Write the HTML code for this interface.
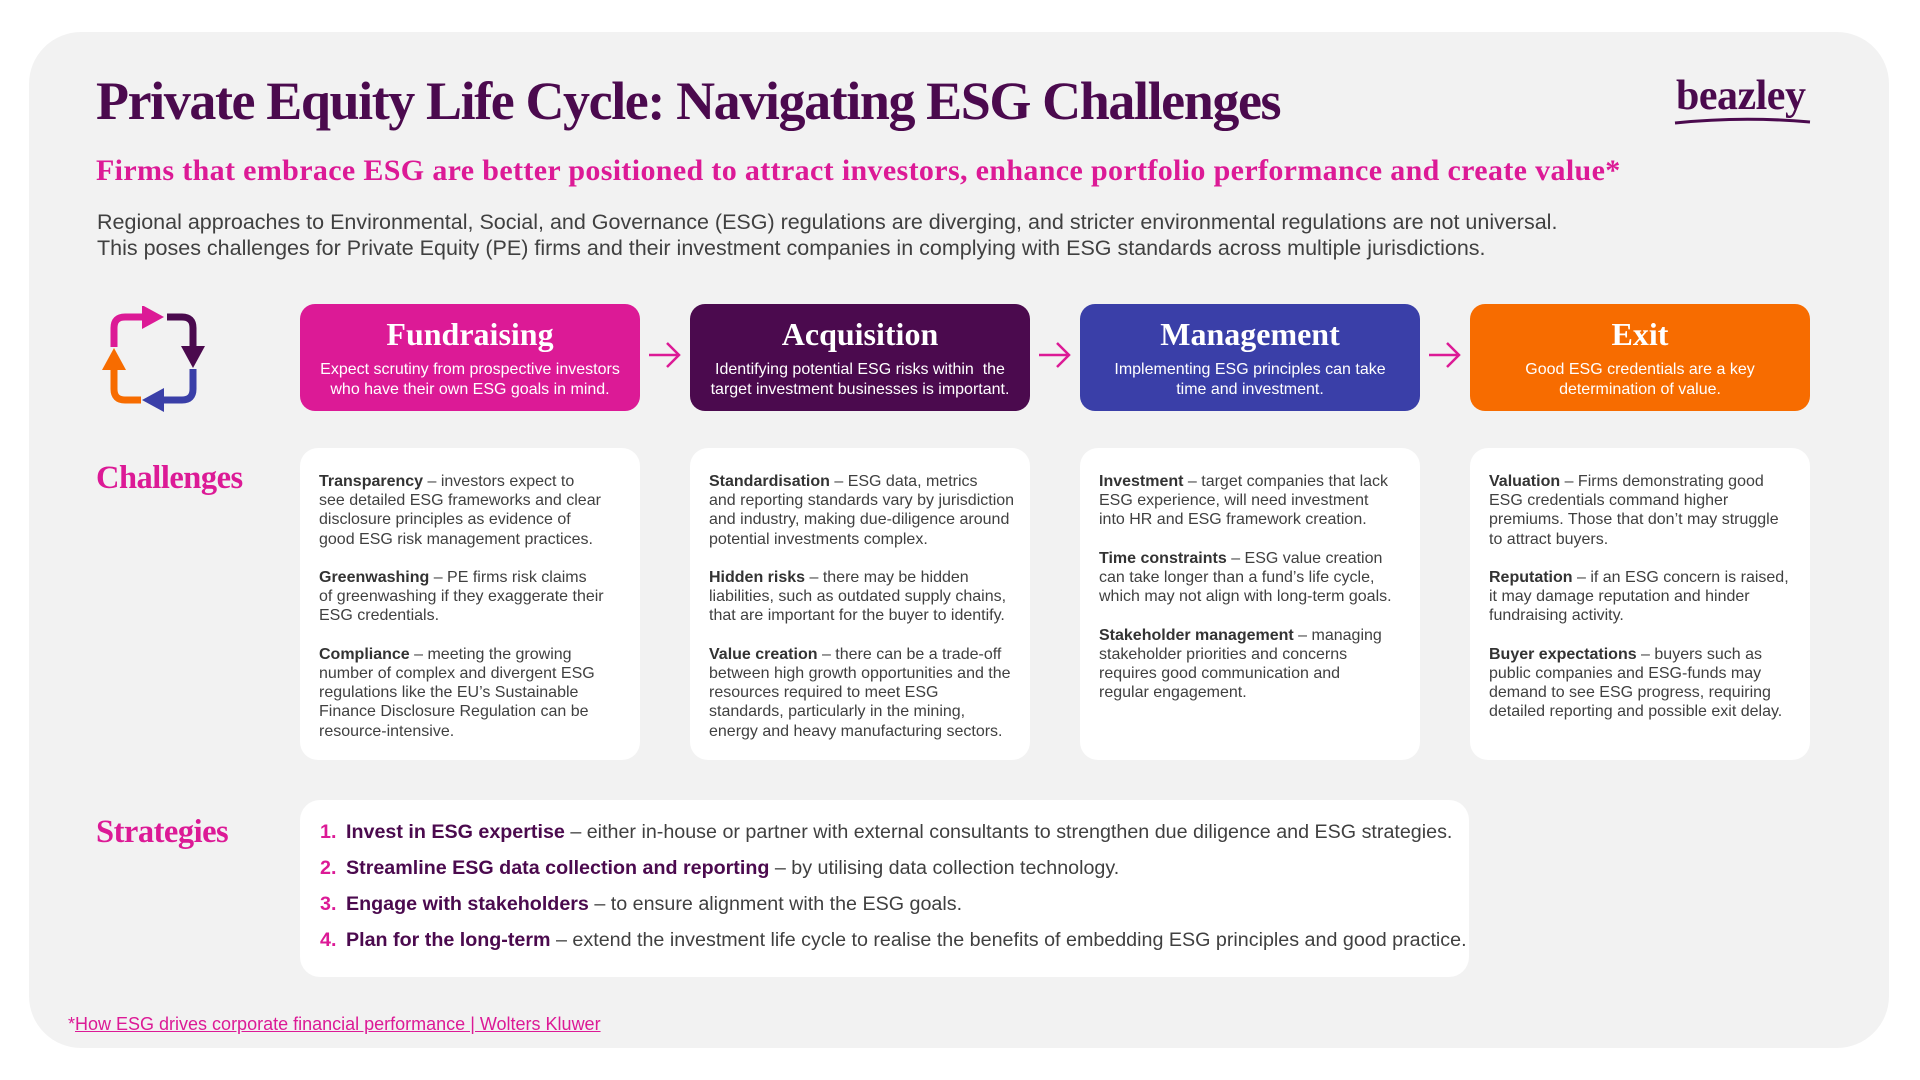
<!DOCTYPE html>
<html><head><meta charset="utf-8"><style>
*{margin:0;padding:0;box-sizing:border-box}
body{width:1920px;height:1080px;background:#fff;position:relative;overflow:hidden;font-family:"Liberation Sans",Arial,sans-serif}
.card{position:absolute;left:29px;top:32px;width:1860px;height:1016px;background:#f2f2f2;border-radius:52px}
.abs{position:absolute}
.serif{font-family:"Liberation Serif",serif;font-weight:bold}
h1{position:absolute;left:96px;top:70px;font-family:"Liberation Serif",serif;font-weight:bold;font-size:54px;color:#4b0a4e;letter-spacing:-1.4px;white-space:nowrap}
.sub{left:96px;top:154px;font-size:30px;color:#dc1a96;letter-spacing:0.35px;white-space:nowrap}
.para{left:97px;top:209px;font-size:21.5px;line-height:26px;color:#404040;white-space:nowrap}
.stage{position:absolute;top:304px;width:340px;height:107px;border-radius:15px;color:#fff;text-align:center}
.stage .t{font-family:"Liberation Serif",serif;font-weight:bold;font-size:32px;margin-top:10px;line-height:40px}
.stage .d{font-size:16px;line-height:19.5px;margin-top:6px}
.arr{position:absolute;top:340px;width:34px;height:30px}
.lbl{position:absolute;font-family:"Liberation Serif",serif;font-weight:bold;font-size:32.5px;color:#dc1a96;letter-spacing:-0.5px}
.ch{position:absolute;top:448px;width:340px;height:312px;background:#fff;border-radius:18px;padding:24px 0 0 19px;font-size:16px;line-height:19.2px;color:#404040;white-space:nowrap}
.ch p{margin-bottom:19.2px}
.ch b{color:#333}
.strat{position:absolute;left:300px;top:800px;width:1169px;height:177px;background:#fff;border-radius:20px;padding:21px 0 0 20px;font-size:19.7px;color:#404040}
.strat div{height:36px;white-space:nowrap}
.strat .n{color:#dc1a96;font-weight:bold;display:inline-block;width:26px}
.strat b{color:#4b0a4e}
.foot{left:68px;top:1014px;font-size:18px;color:#dc1a96;white-space:nowrap}
.foot u{text-decoration:underline}
</style></head><body>
<div class="card"></div>
<h1>Private Equity Life Cycle: Navigating ESG Challenges</h1>
<div class="abs serif" style="left:1676px;top:72px;font-size:42px;color:#4b0a4e;letter-spacing:-0.5px">beazley</div>
<svg class="abs" style="left:1672px;top:114px" width="142" height="14"><path d="M3 9 Q70 2 138 8" stroke="#4b0a4e" stroke-width="3" fill="none"/></svg>
<div class="abs serif sub">Firms that embrace ESG are better positioned to attract investors, enhance portfolio performance and create value*</div>
<div class="abs para">Regional approaches to Environmental, Social, and Governance (ESG) regulations are diverging, and stricter environmental regulations are not universal.<br>This poses challenges for Private Equity (PE) firms and their investment companies in complying with ESG standards across multiple jurisdictions.</div>

<svg class="abs" style="left:102px;top:306px" width="110" height="120" viewBox="0 0 110 120">
<path d="M12 41 V22 Q12 11 23 11 H40" stroke="#dc1a96" stroke-width="7" fill="none"/>
<polygon points="40,-1 62,11 40,23" fill="#dc1a96"/>
<path d="M65 11 H80 Q91 11 91 22 V40" stroke="#4b0a4e" stroke-width="7" fill="none"/>
<polygon points="79,40 103,40 91,62" fill="#4b0a4e"/>
<path d="M91 63 V83 Q91 94 80 94 H62" stroke="#3a3fa8" stroke-width="7" fill="none"/>
<polygon points="62,82 62,106 40,94" fill="#3a3fa8"/>
<path d="M39 94 H23 Q12 94 12 83 V64" stroke="#f76c00" stroke-width="7" fill="none"/>
<polygon points="0,64 24,64 12,42" fill="#f76c00"/>
</svg>

<div class="stage" style="left:300px;background:#dc1a96"><div class="t">Fundraising</div><div class="d">Expect scrutiny from prospective investors<br>who have their own ESG goals in mind.</div></div>
<div class="stage" style="left:690px;background:#4b0a4e"><div class="t">Acquisition</div><div class="d">Identifying potential ESG risks within&nbsp; the<br>target investment businesses is important.</div></div>
<div class="stage" style="left:1080px;background:#3a3fa8"><div class="t">Management</div><div class="d">Implementing ESG principles can take<br>time and investment.</div></div>
<div class="stage" style="left:1470px;background:#f76c00"><div class="t">Exit</div><div class="d">Good ESG credentials are a key<br>determination of value.</div></div>
<svg class="arr" style="left:648px" viewBox="0 0 34 30"><path d="M1 15 H31 M19 3 L31 15 L19 27" stroke="#dc1a96" stroke-width="2.5" fill="none"/></svg>
<svg class="arr" style="left:1038px" viewBox="0 0 34 30"><path d="M1 15 H31 M19 3 L31 15 L19 27" stroke="#dc1a96" stroke-width="2.5" fill="none"/></svg>
<svg class="arr" style="left:1428px" viewBox="0 0 34 30"><path d="M1 15 H31 M19 3 L31 15 L19 27" stroke="#dc1a96" stroke-width="2.5" fill="none"/></svg>

<div class="lbl" style="left:96px;top:460px">Challenges</div>
<div class="ch" style="left:300px"><p><b>Transparency</b> – investors expect to<br>see detailed ESG frameworks and clear<br>disclosure principles as evidence of<br>good ESG risk management practices.</p><p><b>Greenwashing</b> – PE firms risk claims<br>of greenwashing if they exaggerate their<br>ESG credentials.</p><p><b>Compliance</b> – meeting the growing<br>number of complex and divergent ESG<br>regulations like the EU’s Sustainable<br>Finance Disclosure Regulation can be<br>resource-intensive.</p></div>
<div class="ch" style="left:690px"><p><b>Standardisation</b> – ESG data, metrics<br>and reporting standards vary by jurisdiction<br>and industry, making due-diligence around<br>potential investments complex.</p><p><b>Hidden risks</b> – there may be hidden<br>liabilities, such as outdated supply chains,<br>that are important for the buyer to identify.</p><p><b>Value creation</b> – there can be a trade-off<br>between high growth opportunities and the<br>resources required to meet ESG<br>standards, particularly in the mining,<br>energy and heavy manufacturing sectors.</p></div>
<div class="ch" style="left:1080px"><p><b>Investment</b> – target companies that lack<br>ESG experience, will need investment<br>into HR and ESG framework creation.</p><p><b>Time constraints</b> – ESG value creation<br>can take longer than a fund’s life cycle,<br>which may not align with long-term goals.</p><p><b>Stakeholder management</b> – managing<br>stakeholder priorities and concerns<br>requires good communication and<br>regular engagement.</p></div>
<div class="ch" style="left:1470px"><p><b>Valuation</b> – Firms demonstrating good<br>ESG credentials command higher<br>premiums. Those that don’t may struggle<br>to attract buyers.</p><p><b>Reputation</b> – if an ESG concern is raised,<br>it may damage reputation and hinder<br>fundraising activity.</p><p><b>Buyer expectations</b> – buyers such as<br>public companies and ESG-funds may<br>demand to see ESG progress, requiring<br>detailed reporting and possible exit delay.</p></div>

<div class="lbl" style="left:96px;top:814px">Strategies</div>
<div class="strat">
<div><span class="n">1.</span><b>Invest in ESG expertise</b> – either in-house or partner with external consultants to strengthen due diligence and ESG strategies.</div>
<div><span class="n">2.</span><b>Streamline ESG data collection and reporting</b> – by utilising data collection technology.</div>
<div><span class="n">3.</span><b>Engage with stakeholders</b> – to ensure alignment with the ESG goals.</div>
<div><span class="n">4.</span><b>Plan for the long-term</b> – extend the investment life cycle to realise the benefits of embedding ESG principles and good practice.</div>
</div>
<div class="abs foot">*<u>How ESG drives corporate financial performance | Wolters Kluwer</u></div>
</body></html>
